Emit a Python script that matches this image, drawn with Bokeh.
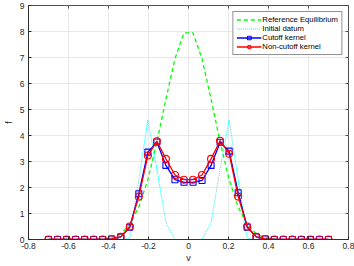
from bokeh.plotting import figure
from bokeh.models import Range1d, FixedTicker, Legend, LegendItem
from bokeh.embed import file_html
from bokeh.resources import INLINE

# velocity grid (32 nodes)
v = [-0.7000, -0.6548, -0.6097, -0.5645, -0.5194, -0.4742, -0.4290, -0.3839,
     -0.3387, -0.2935, -0.2484, -0.2032, -0.1581, -0.1129, -0.0677, -0.0226,
     0.0226, 0.0677, 0.1129, 0.1581, 0.2032, 0.2484, 0.2935, 0.3387,
     0.3839, 0.4290, 0.4742, 0.5194, 0.5645, 0.6097, 0.6548, 0.7000]

reference_eq = [0, 0, 0, 0, 0, 0, 0.02, 0.07, 0.22, 0.58, 1.25, 2.3, 3.75, 5.4, 6.95, 7.95,
                7.95, 6.95, 5.4, 3.75, 2.3, 1.25, 0.58, 0.22, 0.07, 0.02, 0, 0, 0, 0, 0, 0]

initial_datum = [0, 0, 0, 0, 0, 0, 0, 0, 0, 0.05, 2.3, 4.6, 2.7, 0.65, 0, 0,
                 0, 0, 0.65, 2.7, 4.6, 2.3, 0.05, 0, 0, 0, 0, 0, 0, 0, 0, 0]

cutoff = [0, 0, 0, 0, 0, 0, 0, 0.02, 0.1, 0.47, 1.76, 3.36, 3.75, 2.85, 2.3, 2.2,
          2.2, 2.27, 2.85, 3.74, 3.4, 1.8, 0.47, 0.1, 0.02, 0, 0, 0, 0, 0, 0, 0]

non_cutoff = [0, 0, 0, 0, 0, 0, 0, 0.02, 0.1, 0.5, 1.65, 3.23, 3.78, 3.1, 2.48, 2.3,
              2.3, 2.48, 3.1, 3.8, 3.3, 1.65, 0.5, 0.1, 0.02, 0, 0, 0, 0, 0, 0, 0]

x_ticks = [-0.8, -0.6, -0.4, -0.2, 0, 0.2, 0.4, 0.6, 0.8]
x_tick_labels = ["-0.8", "-0.6", "-0.4", "-0.2", "0", "0.2", "0.4", "0.6", "0.8"]
y_ticks = [0, 1, 2, 3, 4, 5, 6, 7, 8, 9]
y_tick_labels = ["0", "1", "2", "3", "4", "5", "6", "7", "8", "9"]

series_labels = ["Reference Equilibrium", "Initial datum", "Cutoff kernel", "Non-cutoff kernel"]

FONT = "Liberation Sans"
AX = "#262626"
X0, X1, Y0, Y1 = -0.8, 0.8, 0, 9
FRAME_W, FRAME_H = 326, 234

p = figure(width=354, height=266, x_range=Range1d(X0, X1), y_range=Range1d(Y0, Y1),
           output_backend="svg", toolbar_location=None,
           min_border_left=22, min_border_right=6, min_border_top=5, min_border_bottom=27)
p.background_fill_color = "white"
p.border_fill_color = "white"
p.outline_line_color = AX
p.outline_line_width = 0.8

for ax, ticks, labels in ((p.xaxis[0], x_ticks, x_tick_labels), (p.yaxis[0], y_ticks, y_tick_labels)):
    ax.ticker = FixedTicker(ticks=ticks)
    ax.major_label_overrides = {t: l for t, l in zip(ticks, labels)}
    ax.major_tick_in = 3
    ax.major_tick_out = 0
    ax.minor_tick_in = 0
    ax.minor_tick_out = 0
    ax.major_tick_line_color = AX
    ax.axis_line_color = AX
    ax.axis_line_width = 0.8
    ax.major_label_text_font = FONT
    ax.major_label_text_font_size = "8.5px"
    ax.major_label_text_color = AX
    ax.axis_label_text_font = FONT
    ax.axis_label_text_font_size = "9px"
    ax.axis_label_text_font_style = "normal"
    ax.axis_label_text_color = AX

p.xaxis[0].axis_label = "v"
p.xaxis[0].major_label_standoff = 3
p.xaxis[0].axis_label_standoff = 1
p.yaxis[0].axis_label = "f"
p.yaxis[0].major_label_standoff = 4
p.yaxis[0].axis_label_standoff = 3

p.xgrid.grid_line_color = "#e8e8e8"
p.ygrid.grid_line_color = "#e8e8e8"
p.xgrid.ticker = FixedTicker(ticks=x_ticks)
p.ygrid.ticker = FixedTicker(ticks=y_ticks)

# tick marks on the top and right edges of the box (3 px long, pointing inwards)
dy = 3 * (Y1 - Y0) / FRAME_H
dx = 3 * (X1 - X0) / FRAME_W
p.segment(x0=x_ticks, y0=[Y1] * len(x_ticks), x1=x_ticks, y1=[Y1 - dy] * len(x_ticks),
          line_color=AX, line_width=0.8)
p.segment(x0=[X1] * len(y_ticks), y0=y_ticks, x1=[X1 - dx] * len(y_ticks), y1=y_ticks,
          line_color=AX, line_width=0.8)

r_eq = p.line(v, reference_eq, line_color="#00ff00", line_width=1.3, line_dash="4 3")
r_init = p.line(v, initial_datum, line_color="#00ffff", line_width=1.0, line_dash="1 1")
r_cut_l = p.line(v, cutoff, line_color="#0000ff", line_width=1.3)
r_cut_m = p.scatter(v, cutoff, marker="square", size=6, line_color="#0000ff",
                    line_width=1.1, fill_alpha=0)
r_non_l = p.line(v, non_cutoff, line_color="#ff0000", line_width=1.3)
r_non_m = p.scatter(v, non_cutoff, marker="circle", size=7, line_color="#ff0000",
                    line_width=1.1, fill_alpha=0)

legend = Legend(items=[
    LegendItem(label=series_labels[0], renderers=[r_eq]),
    LegendItem(label=series_labels[1], renderers=[r_init]),
    LegendItem(label=series_labels[2], renderers=[r_cut_l, r_cut_m]),
    LegendItem(label=series_labels[3], renderers=[r_non_l, r_non_m]),
], location="top_right")
legend.label_text_font = FONT
legend.label_text_font_size = "7.7px"
legend.label_text_color = "black"
legend.glyph_width = 25
legend.glyph_height = 9
legend.label_height = 9
legend.spacing = 0
legend.padding = 3
legend.margin = 6
legend.label_standoff = 1
legend.border_line_color = AX
legend.border_line_width = 0.8
legend.background_fill_alpha = 1
p.add_layout(legend)

open("out.html", "w").write(file_html(p, INLINE))
